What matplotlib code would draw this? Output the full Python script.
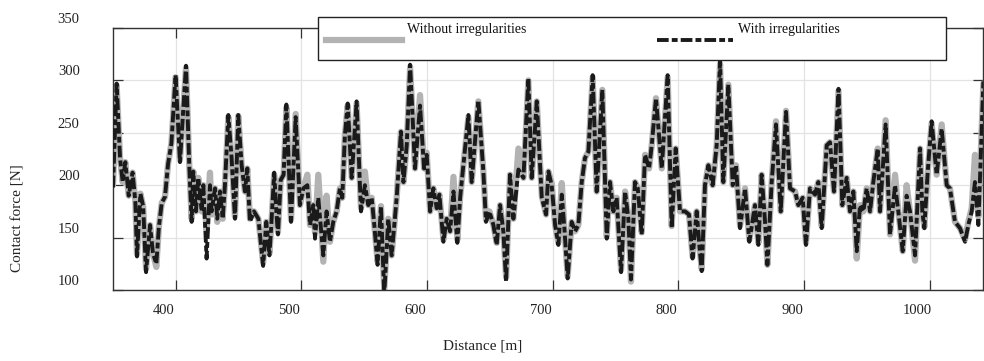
import matplotlib
matplotlib.use("Agg")
import matplotlib.pyplot as plt
from matplotlib.transforms import ScaledTranslation
from matplotlib.lines import Line2D
from matplotlib.patches import Rectangle

## contact force with irregularities (black dash-dot)
dist_with = [
    350.0, 352.9, 355.6, 357.7, 359.8, 362.5, 365.6, 367.8, 369.1, 371.8,
    374.0, 376.3, 379.5, 381.8, 384.5, 386.5, 388.8, 391.4, 393.8, 396.5,
    399.8, 403.3, 408.1, 410.7, 412.6, 413.9, 416.0, 417.9, 420.6, 421.9,
    424.5, 427.2, 428.5, 431.2, 433.0, 435.2, 437.3, 439.1, 441.8, 444.4,
    447.1, 449.7, 452.4, 455.0, 456.9, 459.0, 462.2, 465.7, 469.5, 472.0,
    474.5, 476.0, 478.3, 480.0, 481.3, 483.5, 485.8, 488.0, 491.7, 495.4,
    498.8, 501.5, 504.7, 506.8, 509.4, 510.8, 513.4, 517.4, 520.0, 522.7,
    525.3, 528.0, 530.6, 532.5, 534.6, 536.8, 540.0, 543.9, 547.4, 550.5,
    553.2, 555.9, 558.0, 560.6, 563.3, 565.9, 569.1, 571.8, 575.8, 579.2,
    581.2, 583.8, 586.5, 590.4, 594.4, 597.6, 599.7, 602.4, 605.0, 607.7,
    609.8, 613.0, 615.6, 618.3, 621.0, 624.1, 626.3, 628.9, 632.9, 635.5,
    640.8, 644.8, 646.9, 649.6, 652.8, 655.4, 658.1, 660.7, 662.9, 666.0,
    668.7, 672.7, 676.7, 680.6, 683.3, 687.3, 691.3, 694.7, 696.6, 699.2,
    701.9, 704.5, 707.2, 709.3, 711.9, 715.1, 717.8, 720.4, 723.1, 725.7,
    728.4, 731.8, 735.0, 739.5, 743.0, 745.6, 748.3, 750.9, 754.4, 757.6,
    760.2, 762.3, 765.5, 767.7, 770.8, 773.5, 776.7, 778.8, 782.2, 786.8,
    791.5, 794.7, 797.9, 801.3, 805.3, 808.5, 811.3, 814.6, 816.7, 818.6,
    821.2, 823.9, 827.3, 830.5, 833.2, 835.8, 839.8, 843.3, 845.9, 849.1,
    853.1, 856.5, 861.0, 863.7, 866.3, 869.0, 870.9, 874.3, 877.7, 881.5,
    885.7, 888.9, 892.9, 895.5, 899.0, 901.6, 904.8, 908.8, 911.4, 914.1,
    918.1, 920.7, 923.9, 927.5, 930.5, 934.0, 936.6, 939.3, 942.0, 944.6,
    947.3, 949.9, 952.6, 955.2, 958.7, 960.5, 965.0, 968.5, 972.5, 975.1,
    978.6, 981.7, 984.4, 988.4, 992.4, 994.2, 995.8, 998.5, 1001.6, 1005.6,
    1009.6, 1013.6, 1016.2, 1020.2, 1024.2, 1028.2, 1030.8, 1033.5, 1036.1, 1038.8,
    1042.8,
]
force_with = [
    198, 297, 226, 203, 222, 190, 212, 184, 132, 192,
    180, 117, 162, 135, 125, 160, 183, 189, 220, 240,
    305, 222, 314, 219, 165, 213, 175, 207, 175, 200,
    130, 200, 175, 197, 168, 194, 168, 200, 267, 226,
    168, 267, 219, 194, 216, 165, 175, 168, 123, 165,
    133, 162, 212, 175, 153, 205, 210, 277, 165, 265,
    181, 197, 200, 162, 181, 149, 188, 133, 175, 146,
    165, 175, 197, 188, 248, 278, 207, 280, 175, 200,
    181, 188, 162, 124, 180, 95, 168, 133, 188, 251,
    203, 238, 315, 216, 276, 216, 229, 175, 197, 178,
    191, 146, 168, 156, 194, 145, 188, 219, 267, 203,
    281, 213, 165, 175, 162, 143, 181, 156, 108, 210,
    168, 215, 207, 302, 207, 280, 188, 172, 213, 200,
    162, 143, 191, 159, 111, 165, 156, 162, 203, 226,
    232, 305, 194, 291, 149, 203, 175, 188, 117, 194,
    168, 110, 203, 197, 153, 229, 216, 238, 283, 216,
    305, 159, 235, 175, 175, 172, 130, 175, 143, 118,
    200, 219, 200, 238, 318, 203, 296, 200, 219, 159,
    197, 146, 181, 143, 210, 165, 124, 203, 258, 175,
    270, 197, 194, 181, 188, 143, 197, 191, 203, 159,
    238, 241, 194, 292, 181, 207, 175, 194, 137, 181,
    175, 197, 175, 203, 235, 175, 258, 153, 200, 175,
    137, 190, 175, 133, 235, 175, 159, 213, 261, 210,
    254, 200, 197, 165, 159, 146, 162, 175, 203, 162,
    299,
]

## contact force without irregularities (grey)
dist_without = list(dist_with)
force_without = [
    200, 295, 226, 203, 222, 190, 212, 184, 134, 192,
    180, 120, 162, 135, 122, 160, 183, 189, 220, 240,
    303, 224, 312, 219, 168, 213, 175, 207, 175, 200,
    157, 212, 172, 197, 165, 194, 168, 200, 265, 226,
    170, 266, 219, 194, 216, 168, 175, 168, 126, 165,
    135, 162, 210, 175, 155, 205, 210, 274, 167, 268,
    181, 197, 210, 162, 181, 155, 210, 127, 190, 146,
    165, 175, 197, 188, 248, 276, 207, 278, 178, 213,
    181, 188, 162, 127, 180, 100, 168, 133, 188, 251,
    203, 238, 313, 216, 286, 216, 231, 175, 197, 178,
    191, 148, 168, 156, 208, 148, 188, 219, 265, 203,
    280, 213, 167, 175, 162, 145, 181, 156, 112, 210,
    168, 235, 207, 300, 207, 280, 190, 172, 213, 202,
    162, 145, 202, 159, 113, 165, 156, 162, 203, 226,
    232, 303, 194, 291, 151, 203, 175, 188, 119, 194,
    168, 108, 203, 197, 155, 229, 216, 238, 283, 216,
    303, 161, 235, 175, 175, 172, 132, 175, 143, 120,
    200, 219, 200, 238, 316, 203, 296, 200, 219, 161,
    197, 148, 181, 145, 210, 165, 124, 203, 261, 175,
    271, 197, 194, 181, 188, 145, 197, 191, 203, 161,
    238, 241, 194, 290, 181, 207, 175, 194, 130, 181,
    175, 197, 175, 203, 235, 175, 262, 153, 210, 175,
    137, 200, 175, 128, 235, 175, 160, 213, 259, 210,
    258, 200, 197, 165, 159, 148, 165, 178, 229, 170,
    297,
]

x_ticks = [400, 500, 600, 700, 800, 900, 1000]
y_ticks = [100, 150, 200, 250, 300, 350]

plt.rcParams['font.family'] = ['Liberation Serif', 'DejaVu Serif']

W, H, DPI = 984, 361, 100
fig = plt.figure(figsize=(W / DPI, H / DPI), dpi=DPI)
ax = fig.add_axes([113 / W, 1 - 290 / H, (983 - 113) / W, (290 - 28) / H])

grey = '#b3b3b3'
dash = (3.0, 0.8, 1.5, 0.8)
ax.plot(dist_without, force_without, color=grey, lw=4.5, solid_joinstyle='round',
        solid_capstyle='round', zorder=2)
ax.plot(dist_with, force_with, color='#1a1a1a', lw=2.8, dashes=dash,
        dash_joinstyle='round', zorder=3)

ax.set_xlim(350, 1042.5)
ax.set_ylim(100, 350)
ax.set_xticks(x_ticks)
ax.set_yticks(y_ticks)
ax.grid(True, color='#e3e3e3', lw=0.9, zorder=0)
ax.set_axisbelow(True)
for s in ax.spines.values():
    s.set_color('#333333')
    s.set_linewidth(1.0)
ax.tick_params(direction='in', length=7, width=0.9, color='#333333',
               top=True, right=True, labelsize=10.5, labelcolor='#222222')
ax.tick_params(axis='y', pad=24)
ax.tick_params(axis='x', pad=10)

# tick labels sit offset from their ticks in the original export
dy = ScaledTranslation(0, 10 / DPI, fig.dpi_scale_trans)
dx = ScaledTranslation(-12 / DPI, 0, fig.dpi_scale_trans)
for t in ax.yaxis.get_major_ticks():
    t.label1.set_transform(t.label1.get_transform() + dy)
for t in ax.xaxis.get_major_ticks():
    t.label1.set_transform(t.label1.get_transform() + dx)

fig.text(18 / W, 1 - 218 / H, 'Contact force [N]', rotation=90, ha='center',
         va='center', fontsize=11, color='#222222')
fig.text(483 / W, 1 - 346 / H, 'Distance [m]', ha='center', va='center',
         fontsize=11, color='#222222')

# legend box
fig.add_artist(Rectangle((318 / W, 1 - 60 / H), (946 - 318) / W, 43 / H,
                         transform=fig.transFigure, facecolor='white',
                         edgecolor='#222222', lw=1.0, zorder=5))
fig.add_artist(Line2D([326 / W, 402 / W], [1 - 40 / H] * 2, color=grey, lw=4.5,
                      transform=fig.transFigure, zorder=6))
fig.add_artist(Line2D([657 / W, 733 / W], [1 - 40 / H] * 2, color='#1a1a1a', lw=2.8,
                      dashes=dash, transform=fig.transFigure, zorder=6))
fig.text(407 / W, 1 - 29 / H, 'Without irregularities', ha='left', va='center',
         fontsize=10, color='#111111', zorder=7)
fig.text(738 / W, 1 - 29 / H, 'With irregularities', ha='left', va='center',
         fontsize=10, color='#111111', zorder=7)

fig.savefig('out.png', dpi=DPI)
